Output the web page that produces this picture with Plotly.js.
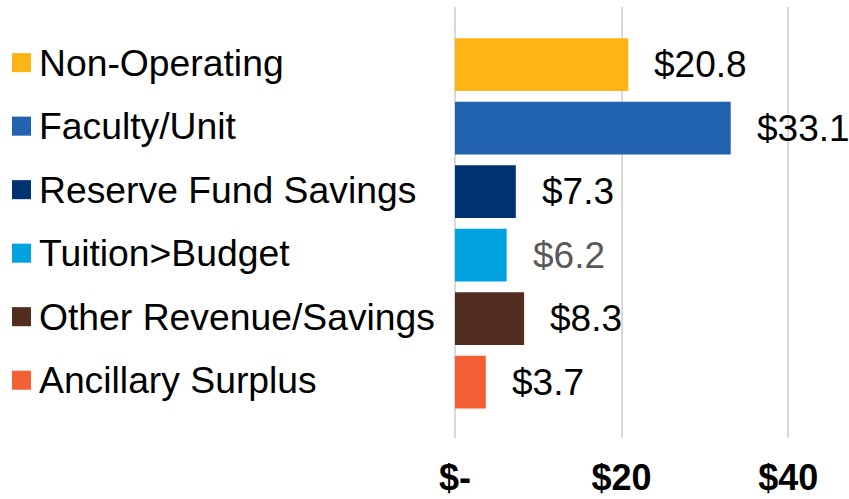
<!DOCTYPE html>
<html>
<head>
<meta charset="utf-8">
<script src="https://cdn.plot.ly/plotly-3.0.1.min.js"></script>
<style>html,body{margin:0;padding:0;background:#fff}#chart{width:849px;height:499px}</style>
</head>
<body>
<div id="chart"></div>
<script>
var categories = ["Non-Operating","Faculty/Unit","Reserve Fund Savings","Tuition>Budget","Other Revenue/Savings","Ancillary Surplus"];
var values = [20.8, 33.1, 7.3, 6.2, 8.3, 3.7];
var valueLabels = ["$20.8","$33.1","$7.3","$6.2","$8.3","$3.7"];
var barColors = ["#FDB515","#2163AE","#003270","#00A3E0","#512C1F","#F46036"];
var labelColors = ["#000000","#000000","#000000","#595959","#000000","#000000"];
var tickVals = [0, 20, 40];
var tickText = ["$-","$20","$40"];

var FONT = "Liberation Sans, Arial, sans-serif";
var ML = 455, MR = 2, W = 849, PW = W - ML - MR;
function px2paper(px){ return (px - ML) / PW; }

var annotations = [];
var shapes = [];
categories.forEach(function(c, i){
  annotations.push({
    x: values[i], y: c, xref: "x", yref: "y",
    text: valueLabels[i], showarrow: false, xanchor: "left", yanchor: "middle",
    xshift: 24, font: {family: FONT, size: 37, color: labelColors[i]}
  });
  annotations.push({
    x: px2paper(37), y: c, xref: "paper", yref: "y",
    text: c.replace(">", "&gt;"), showarrow: false, xanchor: "left", yanchor: "middle",
    yshift: 2, font: {family: FONT, size: 37.3, color: "#000000"}
  });
  shapes.push({
    type: "rect", xref: "paper", yref: "y",
    x0: px2paper(12), x1: px2paper(31), y0: i - 0.15 - 0.03, y1: i + 0.15 - 0.03,
    fillcolor: barColors[i], line: {width: 0}
  });
});

var trace = {
  type: "bar", orientation: "h",
  x: values, y: categories,
  marker: {color: barColors, line: {width: 0}},
  width: 0.83, hoverinfo: "none"
};

var layout = {
  width: 849, height: 499,
  margin: {l: ML, r: MR, t: 7, b: 61},
  paper_bgcolor: "#ffffff", plot_bgcolor: "#ffffff",
  showlegend: false,
  xaxis: {
    range: [0, PW / 8.33],
    tickvals: tickVals, ticktext: tickText,
    showgrid: true, gridcolor: "#D9D9D9", gridwidth: 2,
    zeroline: true, zerolinecolor: "#D9D9D9", zerolinewidth: 2,
    showline: false, ticks: "",
    ticklabelstandoff: 15,
    tickfont: {family: FONT, size: 36, color: "#000000", weight: "bold"},
    fixedrange: true
  },
  yaxis: {
    type: "category", categoryorder: "array", categoryarray: categories,
    range: [5.88, -0.906],
    showticklabels: false, showgrid: false, zeroline: false, showline: false, ticks: "",
    fixedrange: true
  },
  annotations: annotations,
  shapes: shapes
};

Plotly.newPlot("chart", [trace], layout, {displayModeBar: false, staticPlot: true});
</script>
</body>
</html>
